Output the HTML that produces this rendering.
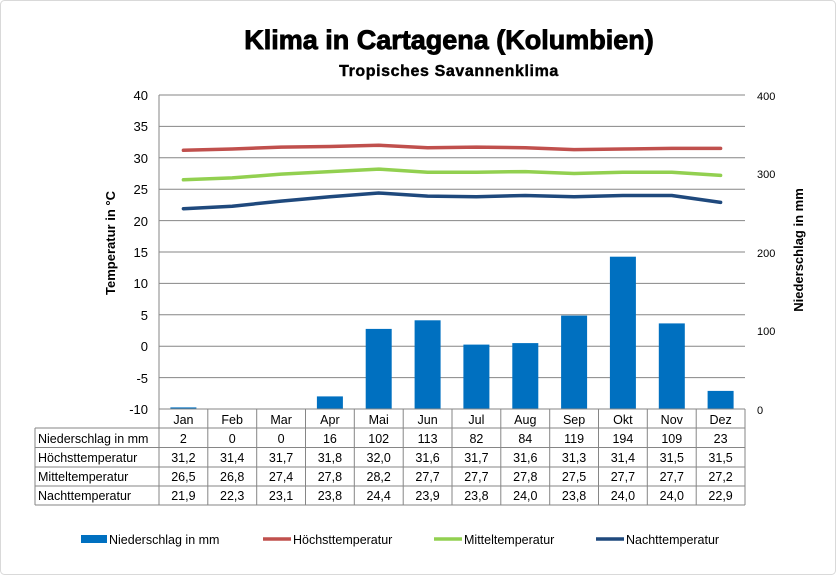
<!DOCTYPE html><html><head><meta charset="utf-8"><style>body{margin:0;background:#fff}svg{display:block;font-family:"Liberation Sans",Arial,sans-serif}</style></head><body>
<svg width="836" height="575" viewBox="0 0 836 575">
<rect x="0.5" y="0.5" width="835" height="574" rx="4" fill="#fff" stroke="#d9d9d9"/>
<text x="449" y="49" font-size="27" font-weight="bold" text-anchor="middle" stroke="#000" stroke-width="0.9">Klima in Cartagena (Kolumbien)</text>
<text x="449" y="76" font-size="16" font-weight="bold" text-anchor="middle" stroke="#000" stroke-width="0.4" letter-spacing="0.6">Tropisches Savannenklima</text>
<g stroke="#868686" stroke-width="1">
<line x1="159" y1="95" x2="745" y2="95"/><line x1="159" y1="126.4" x2="745" y2="126.4"/><line x1="159" y1="157.8" x2="745" y2="157.8"/><line x1="159" y1="189.2" x2="745" y2="189.2"/><line x1="159" y1="220.6" x2="745" y2="220.6"/><line x1="159" y1="252" x2="745" y2="252"/><line x1="159" y1="283.4" x2="745" y2="283.4"/><line x1="159" y1="314.8" x2="745" y2="314.8"/><line x1="159" y1="346.2" x2="745" y2="346.2"/><line x1="159" y1="377.6" x2="745" y2="377.6"/>
<line x1="159" y1="95" x2="159" y2="409"/>
</g>
<g font-size="13" text-anchor="end">
<text x="148" y="100">40</text><text x="148" y="131">35</text><text x="148" y="163">30</text><text x="148" y="194">25</text><text x="148" y="226">20</text><text x="148" y="257">15</text><text x="148" y="288">10</text><text x="148" y="320">5</text><text x="148" y="351">0</text><text x="148" y="383">-5</text><text x="148" y="414">-10</text>
</g>
<g font-size="11"><text x="757" y="100">400</text><text x="757" y="178">300</text><text x="757" y="257">200</text><text x="757" y="335">100</text><text x="757" y="414">0</text></g>
<text transform="translate(115,243) rotate(-90)" font-size="13" font-weight="bold" text-anchor="middle">Temperatur in °C</text>
<text transform="translate(803,250) rotate(-90)" font-size="13" font-weight="bold" text-anchor="middle">Niederschlag in mm</text>
<g fill="#0070c0">
<rect x="170.4" y="407.4" width="26" height="1.6"/><rect x="316.9" y="396.4" width="26" height="12.6"/><rect x="365.7" y="328.9" width="26" height="80.1"/><rect x="414.6" y="320.3" width="26" height="88.7"/><rect x="463.4" y="344.6" width="26" height="64.4"/><rect x="512.3" y="343.1" width="26" height="65.9"/><rect x="561.1" y="315.6" width="26" height="93.4"/><rect x="609.9" y="256.7" width="26" height="152.3"/><rect x="658.8" y="323.4" width="26" height="85.6"/><rect x="707.6" y="390.9" width="26" height="18.1"/>
</g>
<g fill="none" stroke-width="3.5" stroke-linejoin="round" stroke-linecap="round">
<polyline stroke="#c0504d" points="183.4,150.3 232.2,149 281.1,147.1 329.9,146.5 378.7,145.2 427.6,147.7 476.4,147.1 525.3,147.7 574.1,149.6 622.9,149 671.8,148.4 720.6,148.4"/>
<polyline stroke="#92d050" points="183.4,179.8 232.2,177.9 281.1,174.1 329.9,171.6 378.7,169.1 427.6,172.2 476.4,172.2 525.3,171.6 574.1,173.5 622.9,172.2 671.8,172.2 720.6,175.4"/>
<polyline stroke="#1f497d" points="183.4,208.7 232.2,206.2 281.1,201.1 329.9,196.7 378.7,193 427.6,196.1 476.4,196.7 525.3,195.5 574.1,196.7 622.9,195.5 671.8,195.5 720.6,202.4"/>
</g>
<g stroke="#868686" stroke-width="1" fill="none">
<line x1="159" y1="409" x2="745" y2="409"/>
<line x1="35" y1="428" x2="745" y2="428"/><line x1="35" y1="447.5" x2="745" y2="447.5"/><line x1="35" y1="467" x2="745" y2="467"/><line x1="35" y1="486" x2="745" y2="486"/><line x1="35" y1="505" x2="745" y2="505"/>
<line x1="35" y1="428" x2="35" y2="505"/>
<line x1="159" y1="409" x2="159" y2="505"/><line x1="207.8" y1="409" x2="207.8" y2="505"/><line x1="256.7" y1="409" x2="256.7" y2="505"/><line x1="305.5" y1="409" x2="305.5" y2="505"/><line x1="354.3" y1="409" x2="354.3" y2="505"/><line x1="403.2" y1="409" x2="403.2" y2="505"/><line x1="452" y1="409" x2="452" y2="505"/><line x1="500.8" y1="409" x2="500.8" y2="505"/><line x1="549.7" y1="409" x2="549.7" y2="505"/><line x1="598.5" y1="409" x2="598.5" y2="505"/><line x1="647.3" y1="409" x2="647.3" y2="505"/><line x1="696.2" y1="409" x2="696.2" y2="505"/><line x1="745" y1="409" x2="745" y2="505"/>
</g>
<g font-size="12.5" text-anchor="middle">
<g transform="translate(0,424)"><text x="183.4">Jan</text><text x="232.2">Feb</text><text x="281.1">Mar</text><text x="329.9">Apr</text><text x="378.7">Mai</text><text x="427.6">Jun</text><text x="476.4">Jul</text><text x="525.3">Aug</text><text x="574.1">Sep</text><text x="622.9">Okt</text><text x="671.8">Nov</text><text x="720.6">Dez</text></g>
<g transform="translate(0,443)"><text x="183.4">2</text><text x="232.2">0</text><text x="281.1">0</text><text x="329.9">16</text><text x="378.7">102</text><text x="427.6">113</text><text x="476.4">82</text><text x="525.3">84</text><text x="574.1">119</text><text x="622.9">194</text><text x="671.8">109</text><text x="720.6">23</text></g>
<g transform="translate(0,462)"><text x="183.4">31,2</text><text x="232.2">31,4</text><text x="281.1">31,7</text><text x="329.9">31,8</text><text x="378.7">32,0</text><text x="427.6">31,6</text><text x="476.4">31,7</text><text x="525.3">31,6</text><text x="574.1">31,3</text><text x="622.9">31,4</text><text x="671.8">31,5</text><text x="720.6">31,5</text></g>
<g transform="translate(0,481)"><text x="183.4">26,5</text><text x="232.2">26,8</text><text x="281.1">27,4</text><text x="329.9">27,8</text><text x="378.7">28,2</text><text x="427.6">27,7</text><text x="476.4">27,7</text><text x="525.3">27,8</text><text x="574.1">27,5</text><text x="622.9">27,7</text><text x="671.8">27,7</text><text x="720.6">27,2</text></g>
<g transform="translate(0,500)"><text x="183.4">21,9</text><text x="232.2">22,3</text><text x="281.1">23,1</text><text x="329.9">23,8</text><text x="378.7">24,4</text><text x="427.6">23,9</text><text x="476.4">23,8</text><text x="525.3">24,0</text><text x="574.1">23,8</text><text x="622.9">24,0</text><text x="671.8">24,0</text><text x="720.6">22,9</text></g>
</g>
<g font-size="12.5"><text x="38" y="443">Niederschlag in mm</text><text x="38" y="462">Höchsttemperatur</text><text x="38" y="481">Mitteltemperatur</text><text x="38" y="500">Nachttemperatur</text></g>
<g font-size="12.5">
<rect x="81" y="535" width="26" height="8" fill="#0070c0"/><text x="109" y="544">Niederschlag in mm</text>
<line x1="263" y1="539" x2="291" y2="539" stroke="#c0504d" stroke-width="3.5"/><text x="293" y="544">Höchsttemperatur</text>
<line x1="434" y1="539" x2="462" y2="539" stroke="#92d050" stroke-width="3.5"/><text x="464" y="544">Mitteltemperatur</text>
<line x1="596" y1="539" x2="624" y2="539" stroke="#1f497d" stroke-width="3.5"/><text x="626" y="544">Nachttemperatur</text>
</g>
</svg></body></html>
